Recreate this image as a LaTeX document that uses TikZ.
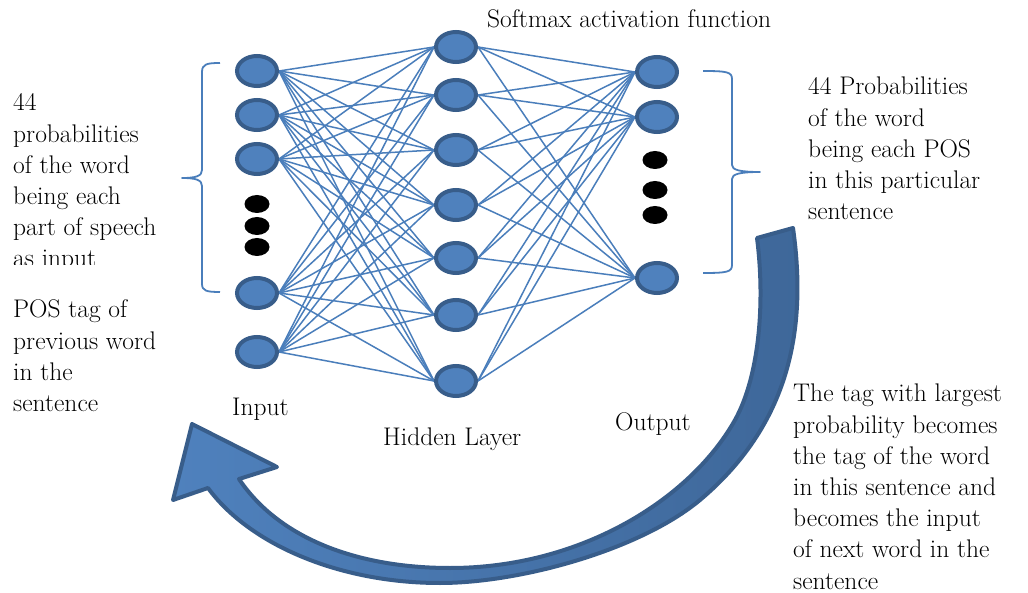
\documentclass[tikz,border=0pt]{standalone}
\usetikzlibrary{shapes.geometric,backgrounds}
\definecolor{nodefill}{HTML}{4F81BD}
\definecolor{nodeedge}{HTML}{385D8A}
\definecolor{linkblue}{HTML}{4A7EBB}
\definecolor{arrowdark}{HTML}{3E6799}
\newcommand\txtlines[1]{\begin{tabular}[t]{@{}l@{}}#1\end{tabular}}
\begin{document}
\begin{tikzpicture}[x=1pt,y=-1pt,
  neuron/.style={ellipse, draw=nodeedge, fill=nodefill, line width=4pt,
    minimum width=40pt, minimum height=30pt, inner sep=0pt},
  blob/.style={ellipse, fill=black, minimum width=25pt, minimum height=18pt, inner sep=0pt},
  link/.style={draw=linkblue, line width=1.5pt},
  bracket/.style={draw=linkblue, line width=1.8pt, line join=round},
  txt/.style={anchor=base west, inner sep=0pt, font=\fontsize{25.5}{31.2}\selectfont},
  bigarrow/.style={draw=nodeedge, line width=4pt, line join=round,
    left color=nodefill, right color=arrowdark},
]
\useasboundingbox (0,0) rectangle (1028,593);

% input layer
\node[neuron] (i1) at (257,71) {};
\node[neuron] (i2) at (257,115) {};
\node[neuron] (i3) at (257,159) {};
\node[neuron] (i4) at (257,293) {};
\node[neuron] (i5) at (257,352) {};
\node[blob] (id1) at (257,204) {};
\node[blob] (id2) at (257,226) {};
\node[blob] (id3) at (257,247) {};

% hidden layer
\node[neuron] (h1) at (456,47) {};
\node[neuron] (h2) at (456,95) {};
\node[neuron] (h3) at (456,150) {};
\node[neuron] (h4) at (456,205) {};
\node[neuron] (h5) at (456,258) {};
\node[neuron] (h6) at (456,315) {};
\node[neuron] (h7) at (456,381) {};

% output layer
\node[neuron] (o1) at (657,72) {};
\node[neuron] (o2) at (657,117) {};
\node[neuron] (o3) at (657,278) {};
\node[blob] (od1) at (655,160) {};
\node[blob] (od2) at (655,190) {};
\node[blob] (od3) at (655,215) {};

% white page and fully connected weights, under the neurons
\begin{scope}[on background layer]
  \fill[white] (0,0) rectangle (1028,593);
  \foreach \a in {1,...,5}
    \foreach \b in {1,...,7}
      \draw[link] (i\a.east) -- (h\b.west);
  \foreach \a in {1,...,7}
    \foreach \b in {1,...,3}
      \draw[link] (h\a.east) -- (o\b.west);
\end{scope}

% braces
\draw[bracket] (220,63) .. controls (207,63) and (202,64) .. (202,72) -- (202,170)
  .. controls (202,176) and (196,178) .. (182,178)
  .. controls (196,178) and (202,180) .. (202,186) -- (202,284)
  .. controls (202,291) and (207,292) .. (220,292);
\draw[bracket] (703,71) .. controls (727,71) and (732,72) .. (732,79) -- (732,165)
  .. controls (732,170) and (740,172) .. (760,172)
  .. controls (740,172) and (732,174) .. (732,179) -- (732,265)
  .. controls (732,272) and (727,273) .. (703,273);

% feedback arrow
\path[bigarrow] (192,424) -- (277,467) -- (239,479)
  .. controls (280,540) and (360,568) .. (450,568)
  .. controls (580,568) and (690,500) .. (735,420)
  .. controls (760,375) and (765,300) .. (757,238)
  -- (793,228)
  .. controls (806,320) and (795,420) .. (700,500)
  .. controls (640,550) and (520,583) .. (440,583)
  .. controls (340,583) and (250,545) .. (208,488)
  -- (173,500) -- cycle;

% texts
\node[txt] (softmax) at (487,28) {Softmax activation function};
\begin{scope}
  \clip (0,80) rectangle (200,265);
  \node[txt] (inprob) at (13,111) {\txtlines{44\\probabilities\\of the word\\being each\\part of speech\\as input}};
\end{scope}
\node[txt] (prevtag) at (13,318) {\txtlines{POS tag of\\previous word\\in the\\sentence}};
\node[txt] (outprob) at (808,95) {\txtlines{44 Probabilities\\of the word\\being each POS\\in this particular\\sentence}};
\node[txt] (feedback) at (793,402) {\txtlines{The tag with largest\\probability becomes\\the tag of the word\\in this sentence and\\becomes the input\\of next word in the\\sentence}};
\node[txt] (inlab) at (232,415) {Input};
\node[txt] (hidlab) at (383,445) {Hidden Layer};
\node[txt] (outlab) at (615,430) {Output};
\end{tikzpicture}
\end{document}
